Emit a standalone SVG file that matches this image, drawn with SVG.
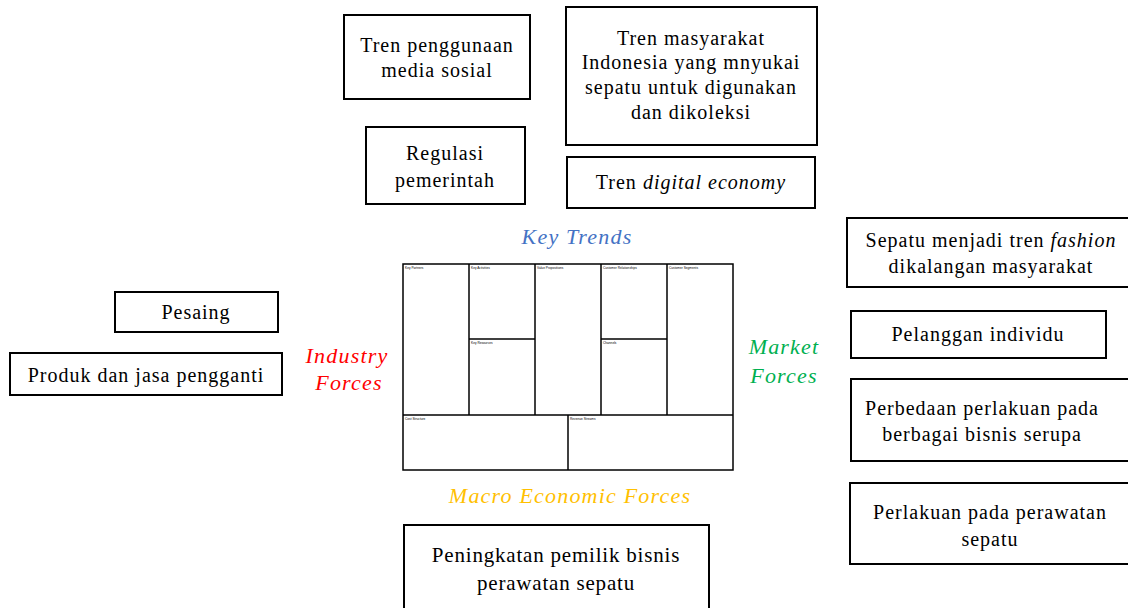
<svg xmlns="http://www.w3.org/2000/svg" width="1128" height="608" viewBox="0 0 1128 608">
<style>
.box{fill:#fff;stroke:#000;stroke-width:2}
.t{font-family:"Liberation Serif","Times New Roman",serif;font-size:20px;fill:#000;text-anchor:middle;letter-spacing:1px}
.lab{font-family:"Liberation Serif","Times New Roman",serif;font-size:22px;font-style:italic;text-anchor:middle;letter-spacing:1.2px}
.cv{fill:none;stroke:#000;stroke-width:1.5}
.ct{font-family:"Liberation Sans",Arial,sans-serif;font-size:3.2px;fill:#000}
</style>
<rect width="1128" height="608" fill="#fff"/>
<g id="n-media"><rect class="box" x="344" y="15" width="186" height="84"/><text class="t" x="437" y="52">Tren penggunaan</text><text class="t" x="437" y="77">media sosial</text></g>
<g id="n-masyarakat"><rect class="box" x="566" y="7" width="251" height="138"/><text class="t" x="691" y="45">Tren masyarakat</text><text class="t" x="691" y="69">Indonesia yang mnyukai</text><text class="t" x="691" y="94">sepatu untuk digunakan</text><text class="t" x="691" y="119">dan dikoleksi</text></g>
<g id="n-regulasi"><rect class="box" x="366" y="127" width="159" height="77"/><text class="t" x="445" y="160">Regulasi</text><text class="t" x="445" y="187">pemerintah</text></g>
<g id="n-digital"><rect class="box" x="567" y="157" width="248" height="51"/><text class="t" x="691" y="189">Tren <tspan font-style="italic">digital economy</tspan></text></g>
<g id="n-fashion"><rect class="box" x="847" y="218" width="285" height="69"/><text class="t" x="991" y="247">Sepatu menjadi tren <tspan font-style="italic">fashion</tspan></text><text class="t" x="991" y="273">dikalangan masyarakat</text></g>
<g id="n-pelanggan"><rect class="box" x="851" y="311" width="255" height="47"/><text class="t" x="978" y="341">Pelanggan individu</text></g>
<g id="n-perbedaan"><rect class="box" x="851" y="379" width="281" height="82"/><text class="t" x="982" y="415">Perbedaan perlakuan pada</text><text class="t" x="982" y="441">berbagai bisnis serupa</text></g>
<g id="n-perlakuan"><rect class="box" x="850" y="483" width="282" height="81"/><text class="t" x="990" y="519">Perlakuan  pada perawatan</text><text class="t" x="990" y="546">sepatu</text></g>
<g id="n-pesaing"><rect class="box" x="115" y="292" width="163" height="40"/><text class="t" x="196" y="319">Pesaing</text></g>
<g id="n-produk"><rect class="box" x="10" y="353" width="272" height="42"/><text class="t" x="146" y="382">Produk dan jasa pengganti</text></g>
<g id="n-peningkatan"><rect class="box" x="404" y="525" width="305" height="90"/><text class="t" x="556" y="562" style="font-size:21px;letter-spacing:0.8px">Peningkatan pemilik  bisnis</text><text class="t" x="556" y="590" style="font-size:21px;letter-spacing:0.8px">perawatan sepatu</text></g>
<g id="labels">
<text class="lab" x="577" y="244" fill="#4472C4">Key Trends</text>
<text class="lab" x="347" y="363" fill="#FF0000">Industry</text>
<text class="lab" x="349" y="390" fill="#FF0000">Forces</text>
<text class="lab" x="784" y="354" fill="#00B050">Market</text>
<text class="lab" x="784" y="383" fill="#00B050">Forces</text>
<text class="lab" x="570" y="503" fill="#FFC000">Macro Economic Forces</text>
</g>
<g id="canvas">
<rect class="cv" x="403" y="264" width="330" height="206" stroke-width="2"/>
<line class="cv" x1="469" y1="264" x2="469" y2="415"/>
<line class="cv" x1="535" y1="264" x2="535" y2="415"/>
<line class="cv" x1="601" y1="264" x2="601" y2="415"/>
<line class="cv" x1="667" y1="264" x2="667" y2="415"/>
<line class="cv" x1="469" y1="339" x2="535" y2="339"/>
<line class="cv" x1="601" y1="339" x2="667" y2="339"/>
<line class="cv" x1="403" y1="415" x2="733" y2="415"/>
<line class="cv" x1="568" y1="415" x2="568" y2="470"/>
<text class="ct" x="405" y="269">Key Partners</text>
<text class="ct" x="471" y="269">Key Activities</text>
<text class="ct" x="537" y="269">Value Propositions</text>
<text class="ct" x="603" y="269">Customer Relationships</text>
<text class="ct" x="669" y="269">Customer Segments</text>
<text class="ct" x="471" y="344">Key Resources</text>
<text class="ct" x="603" y="344">Channels</text>
<text class="ct" x="405" y="420">Cost Structure</text>
<text class="ct" x="570" y="420">Revenue Streams</text>
</g>
<g id="connectors"></g>
</svg>
